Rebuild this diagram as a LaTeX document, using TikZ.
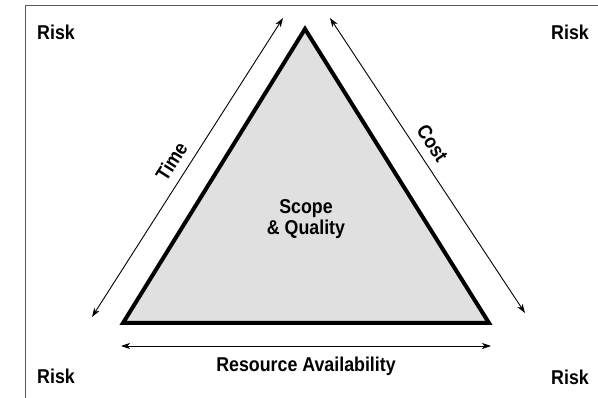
\documentclass[tikz,border=0pt]{standalone}
\usepackage{fontspec}
\newfontfamily\labelfont{Liberation Sans}[FakeStretch=0.89]
\usepackage{tikz}
\usetikzlibrary{arrows.meta,positioning}

\begin{document}
\begin{tikzpicture}[
    x=1pt, y=-1pt,
    label/.style={font=\labelfont\bfseries\fontsize{20}{23}\selectfont, inner sep=0pt, text=black},
    side/.style={draw=black, line width=4pt, line join=miter, fill=black!12},
    arrow/.style={{Stealth[length=9pt,width=6pt,inset=2.5pt]}-{Stealth[length=9pt,width=6pt,inset=2.5pt]}, line width=0.9pt},
    frame/.style={draw=black!65, line width=1pt}
]
\useasboundingbox (0,0) rectangle (598,398);

% Frame
\draw[frame] (25,398) -- (25,6) -- (598,6);

% Triangle
\coordinate (apex) at (305,29);
\coordinate (bl) at (123,323);
\coordinate (br) at (489,323);
\draw[side] (apex) -- (bl) -- (br) -- cycle;

\node[label, align=center] (scope) at (306,219) {Scope\\[-2pt]\& Quality};

% Arrows
\coordinate (time-a) at (92,317);
\coordinate (time-b) at (283,18);
\coordinate (cost-a) at (330,18);
\coordinate (cost-b) at (525,313);
\coordinate (res-a) at (121,346);
\coordinate (res-b) at (491,346);

\draw[arrow] (time-a) -- node[label, sloped, above=9pt, pos=0.49] (time) {Time} (time-b);
\draw[arrow] (cost-a) -- node[label, sloped, above=9pt, pos=0.455] (cost) {Cost} (cost-b);
\draw[arrow] (res-a) -- node[label, below=11pt] (res) {Resource Availability} (res-b);

% Risk
\node[label] (risk-tl) at (56,32) {Risk};
\node[label] (risk-tr) at (570,32) {Risk};
\node[label] (risk-bl) at (56,376) {Risk};
\node[label] (risk-br) at (570,377) {Risk};

\end{tikzpicture}
\end{document}
